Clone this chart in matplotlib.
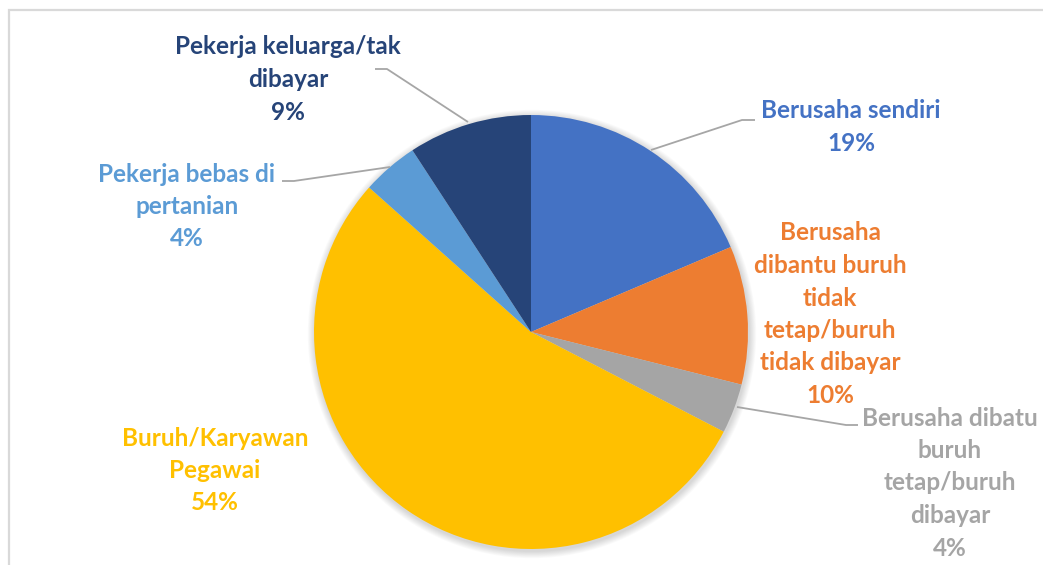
import matplotlib
matplotlib.use("Agg")
import matplotlib.pyplot as plt
from matplotlib.patches import Circle, Rectangle
import numpy as np

# ---- data ----
categories = [
    "Berusaha sendiri",
    "Berusaha\ndibantu buruh\ntidak\ntetap/buruh\ntidak dibayar",
    "Berusaha dibatu\nburuh\ntetap/buruh\ndibayar",
    "Buruh/Karyawan\nPegawai",
    "Pekerja bebas di\npertanian",
    "Pekerja keluarga/tak\ndibayar",
]
values = [18.6, 10.3, 3.7, 54.0, 4.2, 9.2]
pct_labels = ["19%", "10%", "4%", "54%", "4%", "9%"]
colors = ["#4472C4", "#ED7D31", "#A5A5A5", "#FFC000", "#5B9BD5", "#264478"]

W, H = 1043, 565
fig = plt.figure(figsize=(W / 100, H / 100), dpi=100)
ax = fig.add_axes([0, 0, 1, 1])
ax.set_xlim(0, W)
ax.set_ylim(0, H)
ax.set_aspect("equal")
ax.axis("off")

def Y(y):
    return H - y

# border (chart area frame, cropped at right/bottom)
ax.add_patch(Rectangle((9, Y(600)), 1100, 590, fill=False, ec="#D9D9D9", lw=1.6))

cx, cy, R = 531, Y(332), 217

# soft shadow
for k in range(8, 0, -1):
    ax.add_patch(Circle((cx + 1, cy - 2), R + k * 0.9, color="#000000",
                        alpha=0.018, lw=0, zorder=1))

ax.pie(values, colors=colors, startangle=90, counterclock=False,
       center=(cx, cy), radius=R, frame=True,
       wedgeprops=dict(linewidth=0, zorder=2))
ax.set_xlim(0, W)
ax.set_ylim(0, H)
ax.axis("off")

font = "Lato"
fs = 17.5
line_h = 32.5
# label anchor (x center, y of first line center) in pixel coords
label_pos = [(851, 111), (830, 233), (950, 418), (215, 438), (187, 174), (288, 47)]
for cat, pct, col, (lx, ly) in zip(categories, pct_labels, colors, label_pos):
    lines = cat.split("\n") + [pct]
    for i, s in enumerate(lines):
        ax.text(lx, Y(ly + i * line_h), s, ha="center", va="center",
                fontsize=fs, fontweight="bold", color=col, family=font, zorder=5)

# leader lines
leaders = [
    [(651, 150), (742, 120), (755, 120)],
    [(737, 407), (846, 425), (858, 425)],
    [(390, 167), (294, 181), (282, 181)],
    [(468, 122), (387, 69), (375, 69)],
]
for pts in leaders:
    xs = [p[0] for p in pts]
    ys = [Y(p[1]) for p in pts]
    ax.plot(xs, ys, color="#A6A6A6", lw=1.3, zorder=4, solid_capstyle="butt")

fig.savefig("out.png", dpi=100)
